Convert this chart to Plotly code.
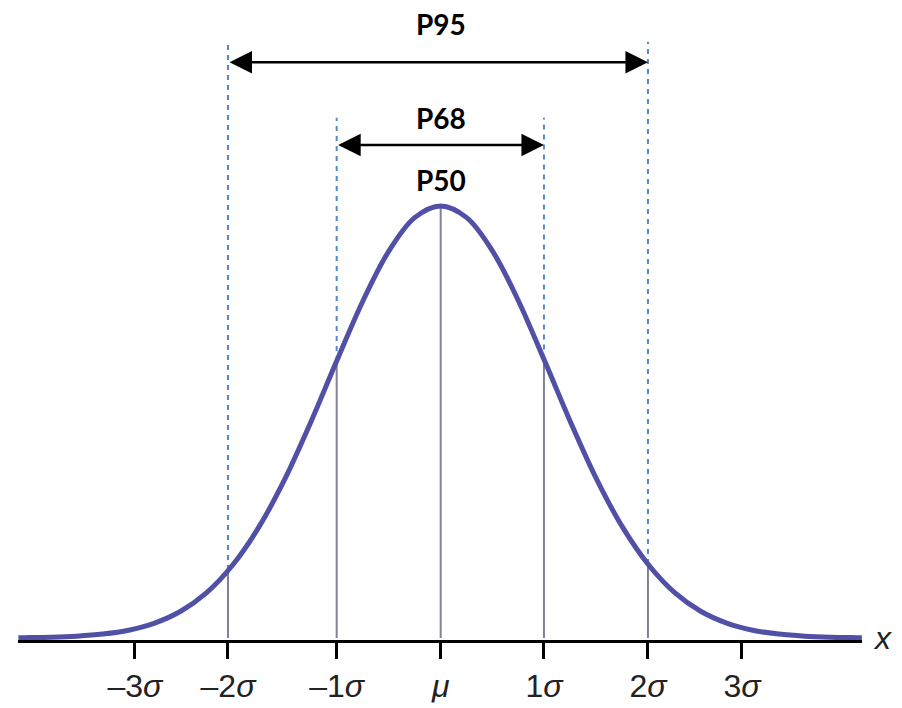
import numpy as np
import plotly.graph_objects as go

# ---- data ----
curve_x = [-4.06, -4.0, -3.75, -3.5, -3.25, -3.0, -2.75, -2.5, -2.25, -2.0, -1.75, -1.5, -1.25,
           -1.0, -0.75, -0.5, -0.25, 0.0, 0.25, 0.5, 0.75, 1.0, 1.25, 1.5, 1.75, 2.0,
           2.25, 2.5, 2.75, 3.0, 3.25, 3.5, 3.75, 4.0, 4.05]
curve_y = [0.0006, 0.0008, 0.0019, 0.0043, 0.0091, 0.018, 0.0346, 0.062, 0.105, 0.169, 0.256,
           0.367, 0.499, 0.641, 0.779, 0.895, 0.973, 1.0, 0.973, 0.895, 0.779, 0.641, 0.499,
           0.367, 0.256, 0.169, 0.105, 0.062, 0.0346, 0.018, 0.0091, 0.0043, 0.0019, 0.0008, 0.0006]
tick_pos = [-2.94, -2.045, -1.0, 0.0, 0.993, 1.993, 2.897]
tick_text = ["–3<i>σ</i>", "–2<i>σ</i>", "–1<i>σ</i>", "<i>μ</i>", "1<i>σ</i>", "2<i>σ</i>", "3<i>σ</i>"]
interval_labels = ["P95", "P68", "P50"]

# ---- layout constants ----
CURVE_COLOR = "#5050a6"
GRAY = "#80809c"
BLUE = "#5288cc"
y_p95_arrow, y_p68_arrow = 1.333, 1.141
y_p95_top, y_p68_top = 1.380, 1.204
label_y = [None, 1.204, 1.060]

xs = np.array(curve_x)
ys = np.array(curve_y)
def curve_at(x):
    return float(np.interp(x, xs, ys))

m2, m1, mu, p1, p2 = tick_pos[1], tick_pos[2], tick_pos[3], tick_pos[4], tick_pos[5]

fig = go.Figure()

# gray verticals under the curve
for xv in [m2, m1, mu, p1, p2]:
    fig.add_trace(go.Scatter(x=[xv, xv], y=[0, curve_at(xv)], mode="lines",
                             line=dict(color=GRAY, width=2), hoverinfo="skip", showlegend=False))
# dashed blue verticals above the curve
for xv, top in [(m2, y_p95_top), (p2, y_p95_top), (m1, y_p68_top), (p1, y_p68_top)]:
    fig.add_trace(go.Scatter(x=[xv, xv], y=[curve_at(xv), top], mode="lines",
                             line=dict(color=BLUE, width=2, dash="5px,5px"),
                             hoverinfo="skip", showlegend=False))
# the curve
fig.add_trace(go.Scatter(x=curve_x, y=curve_y, mode="lines", line_shape="spline",
                         line=dict(color=CURVE_COLOR, width=5), showlegend=False))

# arrows
for (a, b, yy) in [(m2, p2, y_p95_arrow), (m1, p1, y_p68_arrow)]:
    fig.add_annotation(x=b, y=yy, ax=a, ay=yy, xref="x", yref="y", axref="x", ayref="y",
                       text="", showarrow=True, arrowhead=2, arrowside="end+start",
                       arrowsize=1.8, arrowwidth=2.5, arrowcolor="black", standoff=0, startstandoff=0)
# labels
fig.add_annotation(x=mu, y=1.0, xref="x", yref="paper", text=f"<b>{interval_labels[0]}</b>",
                   showarrow=False, borderpad=0, yanchor="top", yshift=2,
                   font=dict(family="Lato", size=28, color="black"))
for t, yy in zip(interval_labels[1:], label_y[1:]):
    fig.add_annotation(x=mu, y=yy, xref="x", yref="y", text=f"<b>{t}</b>", showarrow=False,
                       font=dict(family="Lato", size=28, color="black"), yanchor="middle")
# axis name
fig.add_annotation(x=1.0237, y=0.0, xref="paper", yref="y", text="<i>x</i>", showarrow=False,
                   font=dict(family="Liberation Sans", size=32, color="#222"),
                   xanchor="center", yanchor="middle")

fig.update_layout(
    width=894, height=700, margin=dict(l=10, r=40, t=0, b=68),
    paper_bgcolor="white", plot_bgcolor="white",
    xaxis=dict(range=[-4.064, 4.051], showgrid=False, zeroline=False, showline=True,
               linecolor="black", linewidth=3, tickmode="array", tickvals=tick_pos,
               ticktext=tick_text, ticks="outside", ticklen=16, tickwidth=3, tickcolor="black",
               tickfont=dict(family="Liberation Sans", size=32, color="#222")),
    yaxis=dict(range=[-0.00463, 1.4583], visible=False, showgrid=False, zeroline=False),
)

fig.write_html("out.html")
